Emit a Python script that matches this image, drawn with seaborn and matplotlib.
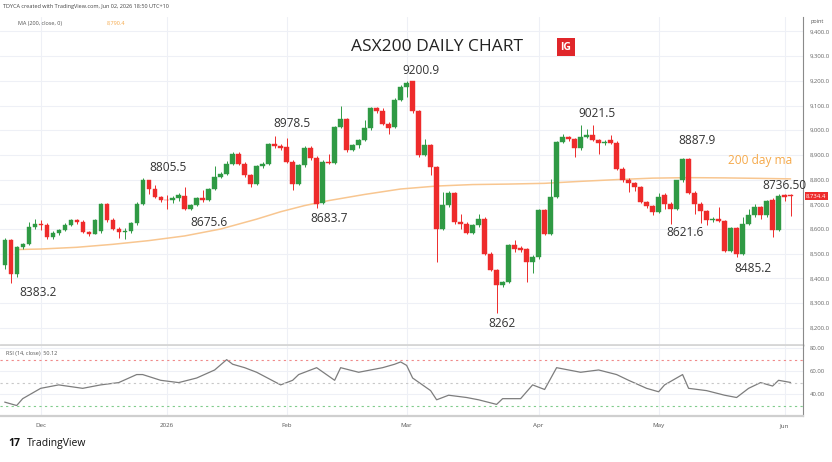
import matplotlib
matplotlib.use("Agg")
import matplotlib.pyplot as plt
import seaborn as sns
import pandas as pd

# daily candles, 21 Nov 2025 -> 2 Jun 2026
opens = [8453, 8554, 8419, 8527, 8540, 8608, 8620, 8615, 8568, 8582,
         8597, 8618, 8635, 8628, 8588, 8581, 8590, 8700, 8635, 8602,
         8588, 8592, 8624, 8703, 8797, 8764, 8730, 8719, 8716, 8727,
         8735, 8683, 8697, 8727, 8719, 8764, 8811, 8824, 8865, 8905,
         8865, 8818, 8784, 8854, 8865, 8946, 8935, 8932, 8872, 8784,
         8858, 8930, 8889, 8705, 8872, 8868, 9014, 9045, 8919, 8939,
         8959, 9007, 9088, 9078, 9027, 9015, 9124, 9176, 9200, 9078,
         8899, 8939, 8851, 8601, 8696, 8746, 8628, 8622, 8584, 8615,
         8642, 8500, 8433, 8372, 8385, 8534, 8524, 8520, 8466, 8487,
         8676, 8581, 8730, 8953, 8973, 8964, 8926, 8973, 8980, 8960,
         8949, 8960, 8949, 8845, 8797, 8787, 8770, 8710, 8692, 8669,
         8737, 8703, 8683, 8797, 8885, 8746, 8703, 8673, 8635, 8642,
         8633, 8511, 8604, 8500, 8622, 8656, 8690, 8656, 8719, 8597,
         8736.5, 8738]
highs = [8565, 8560, 8530, 8545, 8628, 8640, 8635, 8625, 8590, 8600,
         8625, 8640, 8640, 8635, 8592, 8640, 8705, 8705, 8645, 8610,
         8605, 8628, 8710, 8805.5, 8800, 8780, 8735, 8736, 8732, 8745,
         8770, 8700, 8728, 8760, 8768, 8856, 8830, 8877, 8910, 8910,
         8870, 8822, 8860, 8870, 8950, 8978.5, 8945, 8970, 8878, 8862,
         8935, 8935, 8895, 8878, 8905, 9018, 9100, 9050, 8945, 8965,
         9040, 9095, 9095, 9090, 9035, 9130, 9182, 9198, 9200.9, 9082,
         8965, 8945, 8855, 8750, 8752, 8750, 8660, 8628, 8620, 8660,
         8648, 8505, 8440, 8390, 8540, 8555, 8530, 8525, 8495, 8680,
         8682, 8804, 8958, 8985, 8978, 8968, 9020, 9005, 9021.5, 8965,
         8960, 8980, 8955, 8850, 8805, 8792, 8775, 8715, 8697, 8745,
         8745, 8708, 8800, 8887.9, 8888, 8752, 8708, 8678, 8650, 8690,
         8638, 8608, 8608, 8650, 8680, 8700, 8695, 8718, 8725, 8740,
         8740, 8740]
lows = [8440, 8383.2, 8405, 8520, 8535, 8600, 8595, 8560, 8560, 8575,
        8590, 8612, 8620, 8585, 8570, 8578, 8585, 8630, 8598, 8565,
        8560, 8585, 8618, 8698, 8743, 8725, 8710, 8683, 8705, 8712,
        8675.6, 8678, 8692, 8710, 8715, 8760, 8805, 8818, 8860, 8860,
        8812, 8770, 8780, 8848, 8860, 8928, 8918, 8866, 8757, 8780,
        8850, 8880, 8683.7, 8700, 8862, 8865, 9010, 8912, 8915, 8930,
        8955, 9000, 9070, 9020, 8986, 9010, 9118, 9135, 9070, 8890,
        8895, 8818, 8466, 8595, 8690, 8620, 8600, 8578, 8578, 8610,
        8495, 8430, 8262, 8365, 8380, 8505, 8505, 8385, 8420, 8480,
        8575, 8575, 8725, 8948, 8955, 8892, 8920, 8968, 8955, 8905,
        8940, 8945, 8840, 8790, 8750, 8755, 8705, 8685, 8656, 8665,
        8680, 8621.6, 8678, 8790, 8740, 8660, 8625, 8615, 8630, 8628,
        8505, 8505, 8485.2, 8495, 8618, 8650, 8640, 8650, 8568, 8592,
        8715, 8654]
closes = [8554, 8419, 8527, 8540, 8608, 8620, 8615, 8568, 8582, 8597,
          8618, 8635, 8628, 8588, 8581, 8635, 8700, 8635, 8602, 8588,
          8592, 8624, 8703, 8797, 8764, 8730, 8719, 8716, 8727, 8737,
          8683, 8697, 8724, 8719, 8764, 8811, 8824, 8865, 8905, 8865,
          8818, 8784, 8854, 8865, 8946, 8935, 8926, 8872, 8784, 8858,
          8930, 8889, 8703, 8872, 8868, 9014, 9045, 8919, 8939, 8959,
          9007, 9088, 9078, 9027, 9011, 9124, 9176, 9192, 9078, 8899,
          8939, 8851, 8601, 8696, 8746, 8628, 8622, 8584, 8615, 8642,
          8500, 8433, 8372, 8385, 8534, 8520, 8516, 8466, 8487, 8676,
          8581, 8730, 8953, 8973, 8964, 8926, 8973, 8980, 8960, 8949,
          8953, 8949, 8845, 8797, 8787, 8770, 8710, 8692, 8669, 8730,
          8703, 8683, 8797, 8885, 8746, 8703, 8673, 8635, 8642, 8633,
          8511, 8604, 8500, 8622, 8656, 8690, 8656, 8713, 8597, 8735,
          8730, 8734.4]

holidays = ["2025-12-25", "2025-12-26", "2026-01-01", "2026-01-26",
            "2026-04-03", "2026-04-06"]

# 200 day moving average, read at a few bars
ma_bar = [2, 6, 12, 18, 24, 30, 36, 42, 46, 50, 54, 60, 66, 72, 78, 84,
          90, 96, 102, 108, 114, 120, 126, 131]
ma_val = [8517, 8519, 8526, 8538, 8553, 8572, 8600, 8640, 8670, 8695,
          8715, 8740, 8762, 8774, 8780, 8782, 8785, 8793, 8800, 8806,
          8808, 8807, 8805, 8803]

# RSI(14), read at a few bars
rsi_bar = [0, 2, 3, 6, 9, 13, 16, 19, 22, 23, 26, 29, 32, 35, 37, 38, 40,
           42, 46, 48, 49, 52, 55, 56, 59, 63, 65, 66, 67, 68, 71, 72, 74,
           77, 79, 82, 83, 86, 88, 90, 92, 96, 99, 102, 104, 107, 109, 110,
           113, 114, 117, 120, 122, 124, 126, 128, 129, 131]
rsi_val = [33, 30, 36, 45, 48, 45, 48, 50, 57, 57, 52, 50, 54, 61, 70, 66,
           63, 59, 48, 52, 57, 63, 52, 63, 59, 63, 66, 68, 65, 54, 43, 35,
           39, 37, 35, 31, 36, 36, 48, 44, 63, 59, 61, 57, 52, 45, 42, 48,
           57, 45, 43, 39, 37, 45, 50, 47, 52, 50.12]

month_labels = ["Dec", "2026", "Feb", "Mar", "Apr", "May", "Jun"]
price_ticks = [8200, 8300, 8400, 8500, 8600, 8700, 8800, 8900, 9000, 9100,
               9200, 9300, 9400]
rsi_ticks = [40, 60, 80]

# call-outs written on the chart: (text, bar, price)
notes = [("8383.2", 5.6, 8345), ("8805.5", 27.2, 8851), ("8675.6", 34.1, 8628),
         ("8978.5", 47.9, 9029), ("8683.7", 54.1, 8644), ("9200.9", 69.4, 9243),
         ("8262", 82.9, 8219), ("9021.5", 98.7, 9069), ("8887.9", 115.4, 8960),
         ("8621.6", 113.4, 8587), ("8485.2", 124.7, 8442), ("8736.50", 130.0, 8778)]

df = pd.DataFrame({"open": opens, "high": highs, "low": lows, "close": closes})
days = pd.bdate_range("2025-11-21", "2026-06-02")
df["date"] = days[~days.isin(pd.to_datetime(holidays))]
df["bar"] = range(len(df))
df["up"] = df["close"] >= df["open"]
month_first = df.groupby(df["date"].dt.to_period("M"))["bar"].min().values[1:]

sns.set_theme(style="white")
plt.rcParams["font.family"] = ["Open Sans", "DejaVu Sans"]

GREEN, RED = "#2f9a44", "#ee2b2b"
GRID = "#eef0f6"
AXCOL = "#8a8a8a"

fig = plt.figure(figsize=(8.32, 4.62), dpi=100)
ax = fig.add_axes([0.0, 0.253, 0.965, 0.71])
axr = fig.add_axes([0.0, 0.0996, 0.965, 0.151], sharex=ax)

# candles
for up, col in [(True, GREEN), (False, RED)]:
    d = df[df["up"] == up]
    ax.vlines(d["bar"], d["low"], d["high"], color=col, lw=0.7, zorder=3)
    body = (d["close"] - d["open"]).abs().clip(lower=3)
    ax.bar(d["bar"], body, bottom=d[["open", "close"]].min(axis=1),
           width=0.72, color=col, edgecolor=col, lw=0.3, zorder=4)

sns.lineplot(x=ma_bar, y=ma_val, ax=ax, color="#f8c690", lw=1.1, zorder=2)

ax.set_xlim(-0.78, 133.05)
ax.set_ylim(8130, 9458)
ax.set_yticks(price_ticks)
ax.yaxis.tick_right()
ax.set_yticklabels([f"{v:,.1f}" for v in price_ticks], fontsize=4.3, color="#666")
ax.tick_params(axis="y", length=0, pad=5)
ax.tick_params(axis="x", length=0, labelbottom=False)
ax.set_xticks(month_first)
ax.grid(True, color=GRID, lw=0.8)
for s in ["left", "top", "bottom"]:
    ax.spines[s].set_visible(False)
ax.spines["right"].set_color(AXCOL)
ax.spines["right"].set_linewidth(0.8)
ax.axhline(8130, color="#d6d6d6", lw=2.0, clip_on=False)
ax.set_xlabel("")
ax.set_ylabel("")

for txt, b, p in notes:
    ax.text(b, p, txt, ha="center", va="center", fontsize=8.6, color="#333333", zorder=6)
ax.text(126.0, 8879, "200 day ma", ha="center", va="center", fontsize=8.6,
        color="#f5a94a", zorder=6)
ax.text(72.1, 9336, "ASX200 DAILY CHART", ha="center", va="center",
        fontsize=12.5, color="#222222", zorder=6)
ax.text(93.5, 9336, "IG", ha="center", va="center", fontsize=7.5, color="white",
        fontweight="bold", zorder=6,
        bbox=dict(boxstyle="square,pad=0.35", fc="#e0262a", ec="none"))

# last price tag
ax.text(1.004, closes[-1], f"{closes[-1]:,.1f}", transform=ax.get_yaxis_transform(),
        ha="left", va="center", fontsize=4.3, color="white", zorder=7,
        bbox=dict(boxstyle="square,pad=0.25", fc="#ee2b2b", ec="none"))
ax.text(1.01, 0.995, "point", transform=ax.transAxes, fontsize=4, color="#555",
        ha="left", va="top")

# RSI panel
sns.lineplot(x=rsi_bar, y=rsi_val, ax=axr, color="#7d7d7d", lw=0.9)
axr.axhline(70, color="#f08a8a", lw=0.8, ls=(0, (2, 3)))
axr.axhline(50, color="#c8c8c8", lw=0.8, ls=(0, (2, 3)))
axr.axhline(30, color="#80cc8c", lw=0.8, ls=(0, (2, 3)))
axr.set_ylim(20.9, 81.7)
axr.set_yticks(rsi_ticks)
axr.yaxis.tick_right()
axr.set_yticklabels([f"{v:.2f}" for v in rsi_ticks], fontsize=4.3, color="#666")
axr.tick_params(axis="y", length=0, pad=5)
axr.set_xticks(month_first)
axr.set_xticklabels(month_labels, fontsize=4.5, color="#555")
axr.tick_params(axis="x", length=0, pad=5)
axr.grid(True, color=GRID, lw=0.8)
for s in ["left", "top"]:
    axr.spines[s].set_visible(False)
axr.spines["right"].set_color(AXCOL)
axr.spines["right"].set_linewidth(0.8)
axr.spines["bottom"].set_color("#cfcfcf")
axr.spines["bottom"].set_linewidth(1.6)
axr.set_xlabel("")
axr.set_ylabel("")
axr.text(0.008, 0.93, "RSI (14, close)  50.12", transform=axr.transAxes,
         fontsize=4, color="#555", va="top")

# header and footer
fig.text(0.004, 0.992, "TDYCA created with TradingView.com, Jun 02, 2026 18:50 UTC+10",
         fontsize=4, color="#444", va="top")
fig.text(0.022, 0.955, "MA (200, close, 0)", fontsize=4, color="#555", va="top")
fig.text(0.128, 0.955, "8,790.4", fontsize=4, color="#f5a94a", va="top")
fig.text(0.010, 0.04, "17", fontsize=7.5, fontweight="bold", color="#111", va="center")
fig.text(0.032, 0.04, "TradingView", fontsize=7.5, color="#111", va="center")

fig.savefig("out.png", dpi=100)
